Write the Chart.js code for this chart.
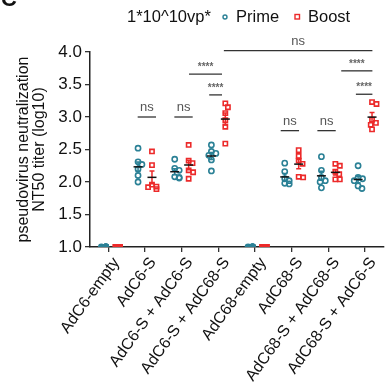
<!DOCTYPE html>
<html>
<head>
<meta charset="utf-8">
<script src="https://cdn.jsdelivr.net/npm/chart.js@4/dist/chart.umd.min.js"></script>
<style>
  html, body { margin: 0; padding: 0; background: #fff; }
  #wrap { width: 389px; height: 392px; }
</style>
</head>
<body>
<div id="wrap"><canvas id="chart"></canvas></div>
<script>
//------ Data ------//
const categories = ['AdC6-empty', 'AdC6-S', 'AdC6-S + AdC6-S', 'AdC6-S + AdC68-S',
  'AdC68-empty', 'AdC68-S', 'AdC68-S + AdC68-S', 'AdC68-S + AdC6-S'];

const primeValues = [
  [1.0, 1.0, 1.0, 1.0, 1.0, 1.0],
  [2.52, 2.31, 2.27, 2.20, 2.10, 2.00],
  [2.35, 2.21, 2.18, 2.08, 2.07, 2.06],
  [2.57, 2.47, 2.44, 2.41, 2.34, 2.17],
  [1.0, 1.0, 1.0, 1.0, 1.0, 1.0],
  [2.29, 2.16, 2.05, 2.02, 1.98, 1.97],
  [2.39, 2.18, 2.07, 2.02, 2.00, 1.91],
  [2.25, 2.07, 2.05, 2.02, 1.94, 1.90]
];

const boostValues = [
  [1.0, 1.0, 1.0, 1.0, 1.0, 1.0],
  [2.47, 2.26, 1.96, 1.93, 1.92, 1.89],
  [2.57, 2.33, 2.29, 2.18, 2.15, 2.05],
  [3.21, 3.15, 3.06, 2.95, 2.85, 2.59],
  [1.0, 1.0, 1.0, 1.0, 1.0, 1.0],
  [2.49, 2.40, 2.33, 2.28, 2.08, 2.07],
  [2.28, 2.25, 2.16, 2.12, 2.04, 2.04],
  [3.23, 3.20, 2.96, 2.91, 2.88, 2.81]
];

const yTicks = [1.0, 1.5, 2.0, 2.5, 3.0, 3.5, 4.0];

// significance brackets: from x, to x (category units), level, label
const brackets = [
  { x1: 0.8, x2: 1.3, y: 3.0, label: 'ns' },
  { x1: 1.8, x2: 2.3, y: 3.0, label: 'ns' },
  { x1: 2.2, x2: 3.1, y: 3.66, label: '****' },
  { x1: 2.75, x2: 3.1, y: 3.34, label: '****' },
  { x1: 3.15, x2: 7.2, y: 4.02, label: 'ns' },
  { x1: 4.7, x2: 5.2, y: 2.79, label: 'ns' },
  { x1: 5.7, x2: 6.2, y: 2.79, label: 'ns' },
  { x1: 6.35, x2: 7.2, y: 3.71, label: '****' },
  { x1: 6.75, x2: 7.2, y: 3.35, label: '****' }
];

const primeColor = '#2b8196';
const boostColor = '#ec2a2a';
const groupShift = 0.19;
const floorValue = 1.0;

//------ Small swarm so points don't sit on top of each other ------//
function swarm(values, center) {
  const pxPerX = 36.9, pxPerY = 65, minDist = 4.5, maxOff = 4.5, step = 1.3;
  const placed = [];
  return values.map(v => {
    const py = v * pxPerY;
    let off = 0;
    for (let k = 0; k < 8; k++) {
      const cand = k === 0 ? 0 : (k % 2 ? 1 : -1) * Math.ceil(k / 2) * step;
      const c = Math.max(-maxOff, Math.min(maxOff, cand));
      const clash = placed.some(p => Math.hypot(p.px - c, p.py - py) < minDist);
      off = c;
      if (!clash) break;
    }
    placed.push({ px: off, py });
    return { x: center + off / pxPerX, y: v };
  });
}

const primePoints = [];
const boostPoints = [];
categories.forEach((c, i) => {
  primePoints.push(...swarm(primeValues[i], i - groupShift));
  boostPoints.push(...swarm(boostValues[i], i + groupShift));
});

function meanSem(arr) {
  const m = arr.reduce((a, b) => a + b, 0) / arr.length;
  const sd = Math.sqrt(arr.reduce((a, b) => a + (b - m) * (b - m), 0) / (arr.length - 1));
  return { m, sem: sd / Math.sqrt(arr.length) };
}

// stacked markers at the detection floor look solid
const fillAtFloor = (color) => (ctx) =>
  ctx.raw && ctx.raw.y <= floorValue ? color : 'rgba(255,255,255,0)';

//------ Plugin: mean/SEM, brackets, legend ------//
const fontFamily = 'Arial, "Liberation Sans", Helvetica, sans-serif';

const extras = {
  id: 'extras',
  afterDatasetsDraw(chart) {
    const { ctx, scales: { x, y } } = chart;
    ctx.save();

    // mean + sem bars
    const drawBar = (vals, xc, color) => {
      const { m, sem } = meanSem(vals);
      if (sem === 0) return;
      const px = x.getPixelForValue(xc);
      const top = y.getPixelForValue(m + sem), bot = y.getPixelForValue(m - sem);
      ctx.strokeStyle = color;
      ctx.lineWidth = 1.5;
      ctx.beginPath();
      ctx.moveTo(px, top); ctx.lineTo(px, bot);
      ctx.moveTo(px - 2.5, top); ctx.lineTo(px + 2.5, top);
      ctx.moveTo(px - 2.5, bot); ctx.lineTo(px + 2.5, bot);
      ctx.stroke();
      ctx.strokeStyle = '#111';
      ctx.beginPath();
      const pm = y.getPixelForValue(m);
      ctx.moveTo(px - 4.5, pm); ctx.lineTo(px + 4.5, pm);
      ctx.stroke();
    };
    categories.forEach((c, i) => {
      drawBar(primeValues[i], i - groupShift, primeColor);
      drawBar(boostValues[i], i + groupShift, boostColor);
    });

    // brackets
    brackets.forEach(b => {
      const x1 = x.getPixelForValue(b.x1), x2 = x.getPixelForValue(b.x2);
      const py = y.getPixelForValue(b.y);
      ctx.strokeStyle = '#333';
      ctx.lineWidth = 1.3;
      ctx.beginPath();
      ctx.moveTo(x1, py); ctx.lineTo(x2, py);
      ctx.stroke();
      ctx.fillStyle = '#555';
      ctx.textAlign = 'center';
      ctx.textBaseline = 'bottom';
      if (b.label === 'ns') {
        ctx.font = '13px ' + fontFamily;
        ctx.fillText(b.label, (x1 + x2) / 2, py - 3);
      } else {
        ctx.fillStyle = '#666';
        ctx.font = 'bold 10px ' + fontFamily;
        ctx.fillText(b.label, (x1 + x2) / 2, py - 2);
      }
    });

    // legend row
    ctx.fillStyle = '#111';
    ctx.font = '16.5px ' + fontFamily;
    ctx.textAlign = 'left';
    ctx.textBaseline = 'middle';
    ctx.fillText('1*10^10vp*', 127, 17);
    ctx.fillText('Prime', 236, 17);
    ctx.fillText('Boost', 308, 17);
    ctx.lineWidth = 1.4;
    ctx.strokeStyle = primeColor;
    ctx.beginPath(); ctx.arc(225, 17, 2, 0, Math.PI * 2); ctx.stroke();
    ctx.strokeStyle = boostColor;
    ctx.strokeRect(295, 14.5, 4.5, 4.5);

    // cut-off panel letter
    ctx.font = 'bold 22px ' + fontFamily;
    ctx.textBaseline = 'alphabetic';
    ctx.fillText('C', 1, 6);
    ctx.restore();
  }
};

//------ Chart ------//
new Chart(document.getElementById('chart'), {
  type: 'scatter',
  data: {
    datasets: [{
      label: 'Prime',
      data: primePoints,
      pointStyle: 'circle',
      pointRadius: 2.6,
      borderWidth: 1.6,
      borderColor: primeColor,
      backgroundColor: fillAtFloor(primeColor)
    }, {
      label: 'Boost',
      data: boostPoints,
      pointStyle: 'rect',
      pointRadius: 3,
      borderWidth: 1.6,
      borderColor: boostColor,
      backgroundColor: fillAtFloor(boostColor)
    }]
  },
  options: {
    responsive: true,
    maintainAspectRatio: false,
    animation: false,
    layout: { padding: { top: 52, right: 4, left: 0, bottom: 0 } },
    plugins: {
      legend: { display: false },
      tooltip: { enabled: false }
    },
    scales: {
      x: {
        type: 'linear',
        min: -0.5,
        max: 7.5,
        afterBuildTicks: (s) => { s.ticks = categories.map((c, i) => ({ value: i })); },
        afterFit: (s) => { s.height = 145; },
        ticks: {
          autoSkip: false,
          minRotation: 54,
          maxRotation: 54,
          color: '#111',
          padding: 2,
          labelOffset: 8,
          font: { family: fontFamily, size: 16 },
          callback: (v) => categories[v]
        },
        grid: { display: true, drawOnChartArea: false, drawTicks: true, tickLength: 5, color: '#333', lineWidth: 1.3 },
        border: { display: true, color: '#222', width: 1.5 }
      },
      y: {
        min: 1.0,
        max: 4.0,
        afterBuildTicks: (s) => { s.ticks = yTicks.map(v => ({ value: v })); },
        afterFit: (s) => { s.width = 90; },
        ticks: {
          color: '#111',
          padding: 3,
          font: { family: fontFamily, size: 17 },
          callback: (v) => v.toFixed(1)
        },
        title: {
          display: true,
          text: ['pseudovirus neutralization', 'NT50 titer (log10)'],
          color: '#111',
          font: { family: fontFamily, size: 16, lineHeight: 1.0 },
          padding: { top: 16, bottom: 0 }
        },
        grid: { display: true, drawOnChartArea: false, drawTicks: true, tickLength: 5, color: '#333', lineWidth: 1.3 },
        border: { display: true, color: '#222', width: 1.5 }
      }
    }
  },
  plugins: [extras]
});
</script>
</body>
</html>
